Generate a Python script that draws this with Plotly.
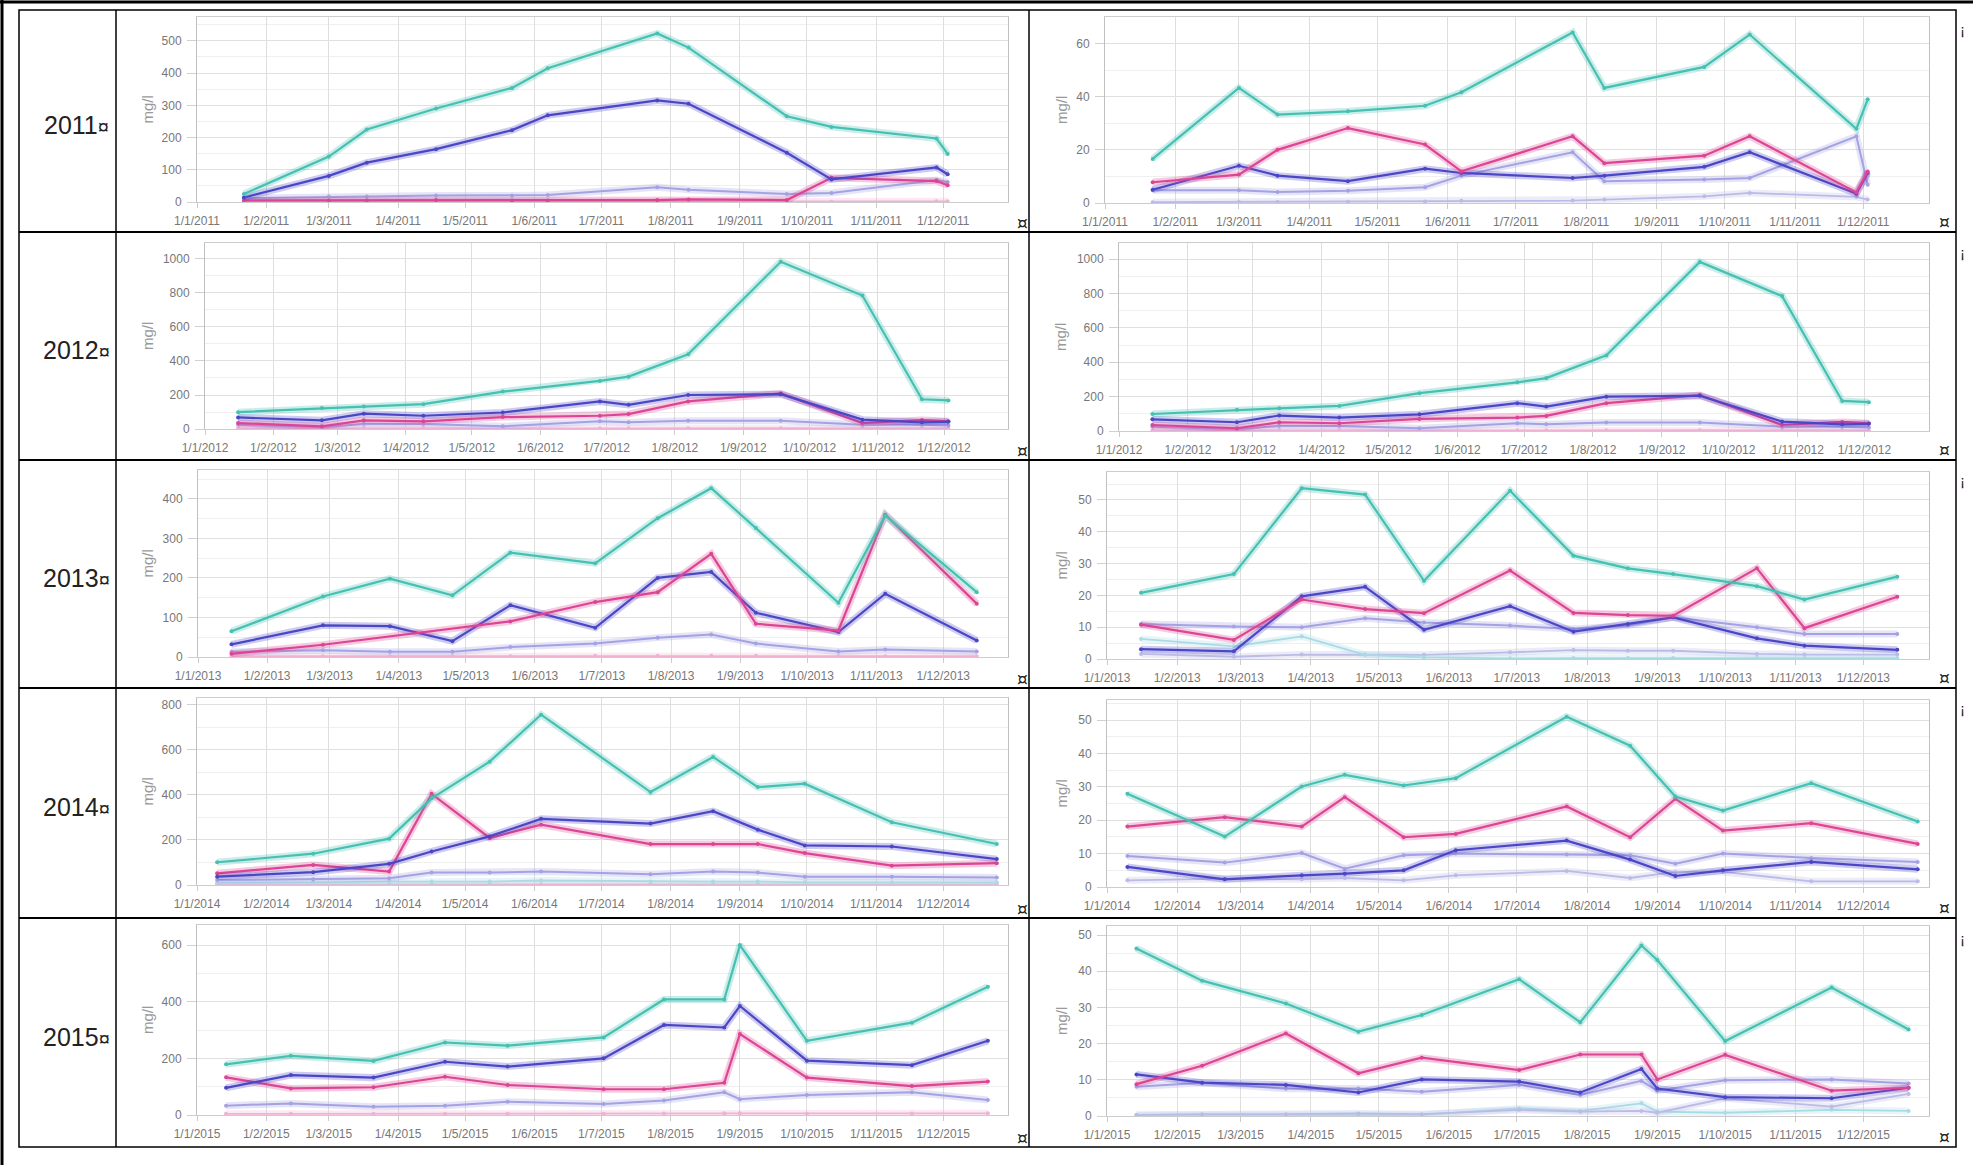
import plotly.graph_objects as go

W, H = 1973, 1165

# ---------------- data ----------------
years = ["2011", "2012", "2013", "2014", "2015"]

dates_2011 = ["2011-01-22", "2011-03-01", "2011-03-18", "2011-04-18", "2011-05-22", "2011-06-07",
              "2011-07-26", "2011-08-09", "2011-09-22", "2011-10-12", "2011-11-28", "2011-12-03"]
dates_2012 = ["2012-01-16", "2012-02-23", "2012-03-13", "2012-04-09", "2012-05-15", "2012-06-28",
              "2012-07-11", "2012-08-07", "2012-09-18", "2012-10-25", "2012-11-21", "2012-12-03"]
dates_2013 = ["2013-01-16", "2013-02-26", "2013-03-28", "2013-04-25", "2013-05-21", "2013-06-28",
              "2013-07-26", "2013-08-19", "2013-09-08", "2013-10-15", "2013-11-05", "2013-12-16"]
dates_2014 = ["2014-01-10", "2014-02-22", "2014-03-28", "2014-04-16", "2014-05-12", "2014-06-04",
              "2014-07-23", "2014-08-20", "2014-09-09", "2014-09-30", "2014-11-08", "2014-12-25"]
dates_2015 = ["2015-01-14", "2015-02-12", "2015-03-21", "2015-04-22", "2015-05-20", "2015-07-02",
              "2015-07-29", "2015-08-25", "2015-09-01", "2015-10-01", "2015-11-17", "2015-12-21"]

# 2011 left
teal_2011_L = [25, 141, 225, 290, 354, 415, 523, 479, 266, 233, 197, 149]
blue_2011_L = [14, 81, 122, 164, 223, 269, 315, 305, 153, 70, 107, 86]
magenta_2011_L = [5, 5, 5, 6, 5, 5, 6, 8, 6, 75, 65, 52]
lav_2011_L = [12, 17, 17, 20, 20, 22, 46, 38, 25, 28, 68, 62]
pinkpale_2011_L = [1, 1, 1, 1, 1, 1, 2, 2, 1, 1, 2, 2]
# 2011 right
teal_2011_R = [16.6, 43.3, 33.3, 34.5, 36.6, 41.7, 64.2, 43.3, 51.2, 63.4, 27.9, 39]
magenta_2011_R = [7.8, 10.7, 20, 28.2, 22, 11.9, 25.1, 15, 17.8, 25.1, 4, 11.9]
blue_2011_R = [5, 14, 10.3, 8.2, 12.9, 11.3, 9.4, 10.3, 13.6, 19.1, 3.5, 11.3]
lav_2011_R = [4.8, 4.8, 4.1, 4.6, 5.9, 10.3, 19.1, 8.2, 8.8, 9.4, 25.1, 6.9]
lavpale_2011_R = [0.3, 0.4, 0.4, 0.5, 0.6, 0.8, 0.9, 1.3, 2.5, 3.8, 2.3, 1.3]

# 2012 (both panels show the same chart)
teal_2012 = [99, 123, 132, 146, 220, 283, 308, 440, 984, 785, 175, 168]
blue_2012 = [68, 51, 90, 78, 97, 162, 142, 200, 205, 55, 39, 42]
magenta_2012 = [35, 16, 51, 45, 70, 78, 88, 162, 209, 35, 53, 45]
lav_2012 = [25, 10, 29, 29, 16, 45, 39, 49, 49, 25, 25, 21]
pinkpale_2012 = [4, 3, 4, 4, 3, 4, 4, 5, 5, 3, 3, 3]

# 2013 left
teal_2013_L = [65, 153, 198, 156, 264, 237, 351, 427, 326, 137, 358, 164]
blue_2013_L = [32, 80, 78, 40, 131, 74, 200, 215, 112, 63, 160, 42]
magenta_2013_L = [8, 31, None, None, 90, 139, 164, 261, 84, 67, 360, 135]
lav_2013_L = [13, 17, 13, 13, 25, 34, 49, 57, 34, 14, 19, 14]
pinkpale_2013_L = [2, 2, 2, 2, 2, 3, 3, 3, 3, 2, 2, 2]
# 2013 right
teal_2013_R = [20.8, 26.7, 53.7, 51.7, 24.6, 52.9, 32.5, 28.5, 26.7, 22.9, 18.7, 25.9]
magenta_2013_R = [10.8, 6, 18.7, 15.7, 14.4, 27.8, 14.5, 13.8, 13.6, 28.5, 9.7, 19.6]
blue_2013_R = [3.1, 2.4, 19.7, 22.7, 9.2, 16.6, 8.6, 11, 13.1, 6.5, 4.2, 2.9]
lav_2013_R = [11, 10.2, 10, 12.8, 11.5, 10.5, 9.4, 10.5, 13.1, 10, 7.9, 7.9]
cyanpale_2013_R = [6.3, 4, 7.1, 1.3, 0.5, 0.2, 0.3, 0.3, 0.3, 0.3, 0.3, 0.3]
lavpale_2013_R = [1.6, 0.7, 1.4, 1.4, 1.3, 2.1, 2.8, 2.6, 2.6, 1.6, 1.4, 1.4]

# 2014 left
teal_2014_L = [101, 139, 206, 385, 548, 757, 413, 569, 435, 450, 279, 182]
blue_2014_L = [37, 57, 94, 149, 216, 294, 273, 328, 246, 176, 171, 115]
magenta_2014_L = [52, 89, 60, 405, 209, 268, 182, 182, 182, 142, 86, 97]
lav_2014_L = [22, 25, 30, 55, 55, 60, 48, 60, 55, 37, 37, 33]
cyanpale_2014_L = [10, 10, 15, 15, 15, 20, 15, 15, 15, 12, 12, 12]
pinkpale_2014_L = [3, 3, 3, 3, 3, 3, 4, 4, 4, 3, 3, 3]
# 2014 right
teal_2014_R = [27.9, 15.1, 30.1, 33.6, 30.4, 32.6, 51, 42.3, 27.1, 22.9, 31.1, 19.6]
magenta_2014_R = [18.1, 20.9, 18.1, 26.9, 14.9, 15.9, 24.1, 14.9, 26.4, 16.9, 19.1, 12.9]
blue_2014_R = [6, 2.3, 3.5, 4, 5, 11, 13.9, 8.2, 3.3, 5, 7.5, 5.3]
lav_2014_R = [9.3, 7.3, 10.2, 5.5, 9.5, 10, 9.7, 9.5, 7, 10, 8.7, 7.5]
lavpale_2014_R = [2, 2.5, 2.3, 2.7, 2, 3.5, 4.8, 2.7, 4.5, 4.5, 1.7, 1.7]

# 2015 left
teal_2015_L = [179, 209, 191, 256, 245, 274, 408, 408, 600, 262, 326, 453]
blue_2015_L = [96, 141, 132, 188, 171, 200, 318, 309, 385, 192, 176, 262]
magenta_2015_L = [133, 94, 98, 135, 106, 91, 91, 114, 286, 132, 102, 118]
lav_2015_L = [33, 41, 29, 33, 47, 39, 51, 80, 56, 71, 80, 53]
pinkpale_2015_L = [4, 4, 4, 4, 4, 4, 5, 6, 6, 4, 5, 6]
# 2015 right
teal_2015_R = [46.3, 37.4, 31.1, 23.3, 27.9, 37.8, 25.9, 47.1, 43.1, 20.7, 35.5, 23.9]
magenta_2015_R = [8.8, 13.9, 22.8, 11.8, 16.1, 12.7, 17, 17, 10.1, 16.9, 7, 7.8]
blue_2015_R = [11.5, 9.2, 8.6, 6.5, 10.1, 9.5, 6.5, 13, 7.6, 5.2, 4.9, 7.8]
lav_2015_R = [8.1, 9.2, 7.5, 7.6, 6.7, 8.6, 5.8, 9.7, 7, 9.9, 10.1, 9]
lavpale_2015_R = [0.3, 0.5, 0.5, 0.7, 0.5, 1.7, 1.2, 1.4, 0.9, 4.9, 2.6, 6.1]
cyanpale_2015_R = [0.3, 0.3, 0.3, 0.3, 0.3, 2.1, 1.4, 3.5, 1.2, 0.9, 1.7, 1.4]

# ---------------- styles ----------------
COLORS = {
    "teal": "#46c0b2",
    "blue": "#4a46c6",
    "magenta": "#dc4593",
    "lav": "#a4a2e2",
    "lavpale": "#bcbae6",
    "cyanpale": "#a9dbe5",
    "pinkpale": "#f0b2d4",
}
WIDTHS = {"teal": 2.2, "blue": 2.2, "magenta": 2.2, "lav": 2.0,
          "lavpale": 1.8, "cyanpale": 1.8, "pinkpale": 1.8}


def rgba(hexc, a):
    h = hexc.lstrip("#")
    return "rgba(%d,%d,%d,%.2f)" % (int(h[0:2], 16), int(h[2:4], 16), int(h[4:6], 16), a)


# panel layout (pixel positions of plot areas)
LEFT_X1, RIGHT_X1 = 1008, 1929
panels = [
    dict(year="2011", dates=dates_2011, x0=197, x1=LEFT_X1, top=17, bottom=202, ymax=574, dtick=100,
         series=[("pinkpale", pinkpale_2011_L), ("lav", lav_2011_L), ("magenta", magenta_2011_L),
                 ("blue", blue_2011_L), ("teal", teal_2011_L)]),
    dict(year="2011", dates=dates_2011, x0=1105, x1=RIGHT_X1, top=17, bottom=203, ymax=70, dtick=20,
         series=[("lavpale", lavpale_2011_R), ("lav", lav_2011_R), ("blue", blue_2011_R),
                 ("magenta", magenta_2011_R), ("teal", teal_2011_R)]),
    dict(year="2012", dates=dates_2012, x0=205, x1=LEFT_X1, top=243, bottom=429, ymax=1094, dtick=200,
         series=[("pinkpale", pinkpale_2012), ("lav", lav_2012), ("magenta", magenta_2012),
                 ("blue", blue_2012), ("teal", teal_2012)]),
    dict(year="2012", dates=dates_2012, x0=1119, x1=RIGHT_X1, top=243, bottom=431, ymax=1094, dtick=200,
         series=[("pinkpale", pinkpale_2012), ("lav", lav_2012), ("magenta", magenta_2012),
                 ("blue", blue_2012), ("teal", teal_2012)]),
    dict(year="2013", dates=dates_2013, x0=198, x1=LEFT_X1, top=470, bottom=657, ymax=473, dtick=100,
         series=[("pinkpale", pinkpale_2013_L), ("lav", lav_2013_L), ("blue", blue_2013_L),
                 ("magenta", magenta_2013_L), ("teal", teal_2013_L)]),
    dict(year="2013", dates=dates_2013, x0=1107, x1=RIGHT_X1, top=472, bottom=659, ymax=58.8, dtick=10,
         series=[("lavpale", lavpale_2013_R), ("cyanpale", cyanpale_2013_R), ("lav", lav_2013_R),
                 ("blue", blue_2013_R), ("magenta", magenta_2013_R), ("teal", teal_2013_R)]),
    dict(year="2014", dates=dates_2014, x0=197, x1=LEFT_X1, top=698, bottom=885, ymax=831, dtick=200,
         series=[("pinkpale", pinkpale_2014_L), ("cyanpale", cyanpale_2014_L), ("lav", lav_2014_L),
                 ("magenta", magenta_2014_L), ("blue", blue_2014_L), ("teal", teal_2014_L)]),
    dict(year="2014", dates=dates_2014, x0=1107, x1=RIGHT_X1, top=700, bottom=887, ymax=56, dtick=10,
         series=[("lavpale", lavpale_2014_R), ("lav", lav_2014_R), ("blue", blue_2014_R),
                 ("magenta", magenta_2014_R), ("teal", teal_2014_R)]),
    dict(year="2015", dates=dates_2015, x0=197, x1=LEFT_X1, top=925, bottom=1115, ymax=671, dtick=200,
         series=[("pinkpale", pinkpale_2015_L), ("lav", lav_2015_L), ("magenta", magenta_2015_L),
                 ("blue", blue_2015_L), ("teal", teal_2015_L)]),
    dict(year="2015", dates=dates_2015, x0=1107, x1=RIGHT_X1, top=926, bottom=1116, ymax=52.5, dtick=10,
         series=[("cyanpale", cyanpale_2015_R), ("lavpale", lavpale_2015_R), ("lav", lav_2015_R),
                 ("blue", blue_2015_R), ("magenta", magenta_2015_R), ("teal", teal_2015_R)]),
]

# table geometry (pixels)
TABLE_L, TABLE_R, TABLE_T, TABLE_B = 19, 1956, 10, 1147
COL_LINES = [116, 1029]
ROW_LINES = [232, 460, 688, 918]
ROW_EDGES = [TABLE_T] + ROW_LINES + [TABLE_B]


def px(x):
    return x / W


def py(y):
    return 1 - y / H


fig = go.Figure()
layout = dict(
    width=W, height=H,
    margin=dict(l=0, r=0, t=0, b=0, pad=0, autoexpand=False),
    paper_bgcolor="white", plot_bgcolor="white",
    showlegend=False,
    font=dict(family="Liberation Sans, Arial, sans-serif"),
)

tickfont = dict(family="Liberation Sans, Arial, sans-serif", size=12, color="#777777")

annotations = []
shapes = []

for i, p in enumerate(panels, start=1):
    sfx = "" if i == 1 else str(i)
    xa, ya = "x" + sfx, "y" + sfx
    for name, vals in p["series"]:
        c = COLORS[name]
        fig.add_trace(go.Scatter(
            x=p["dates"], y=vals, xaxis=xa, yaxis=ya, mode="lines",
            line=dict(color=rgba(c, 0.28), width=7), connectgaps=True, hoverinfo="skip"))
        fig.add_trace(go.Scatter(
            x=p["dates"], y=vals, xaxis=xa, yaxis=ya, mode="lines+markers",
            line=dict(color=c, width=WIDTHS[name]), marker=dict(size=4, color=c),
            connectgaps=True))
    y = p["year"]
    layout["xaxis" + sfx] = dict(
        domain=[px(p["x0"]), px(p["x1"])], anchor=ya, type="date", automargin=False,
        range=[y + "-01-01", y + "-12-30"], dtick="M1", tick0=y + "-01-01",
        tickformat="%-d/%-m/%Y", tickfont=tickfont, tickangle=0,
        showgrid=True, gridcolor="#dedede", gridwidth=1,
        showline=True, linecolor="#cccccc", mirror=True,
        ticks="outside", ticklen=5, tickcolor="#cccccc", ticklabelstandoff=3,
        zeroline=False, fixedrange=True,
    )
    layout["yaxis" + sfx] = dict(
        domain=[py(p["bottom"]), py(p["top"])], anchor=xa, automargin=False,
        range=[0, p["ymax"]], dtick=p["dtick"], tick0=0, tickfont=tickfont,
        showgrid=True, gridcolor="#e0e0e0", gridwidth=1,
        minor=dict(dtick=p["dtick"] / 2, showgrid=True, gridcolor="#efefef", ticks=""),
        showline=True, linecolor="#c0c0c0", mirror=True,
        ticks="outside", ticklen=9, tickcolor="#d0d0d0", ticklabelstandoff=3,
        zeroline=False, fixedrange=True,
    )
    title_x = 147 if p["x1"] == LEFT_X1 else 1061
    annotations.append(dict(
        x=px(title_x), y=py((p["top"] + p["bottom"]) / 2), xref="paper", yref="paper",
        text="mg/l", textangle=-90, showarrow=False, xanchor="center", yanchor="middle",
        font=dict(size=15, color="#999999", family="Liberation Sans, Arial, sans-serif")))

for r, yr in enumerate(years):
    top, bot = ROW_EDGES[r], ROW_EDGES[r + 1]
    annotations.append(dict(
        x=px(76), y=py((top + bot) / 2 + 4), xref="paper", yref="paper",
        text=yr + "<span style='font-size:20px'>¤</span>", showarrow=False,
        xanchor="center", yanchor="middle",
        font=dict(size=25, color="#222222", family="Liberation Sans, Arial, sans-serif")))
    annotations.append(dict(
        x=px(1022), y=py(bot - 9), xref="paper", yref="paper", text="¤", showarrow=False,
        xanchor="center", yanchor="middle",
        font=dict(size=17, color="#222222", family="DejaVu Sans, sans-serif")))
    annotations.append(dict(
        x=px(1944), y=py(bot - 10), xref="paper", yref="paper", text="¤", showarrow=False,
        xanchor="center", yanchor="middle",
        font=dict(size=17, color="#222222", family="DejaVu Sans, sans-serif")))
    annotations.append(dict(
        x=px(1962), y=py(top + 20), xref="paper", yref="paper", text="¡", showarrow=False,
        xanchor="center", yanchor="middle", font=dict(size=15, color="#222222")))

line_black = dict(color="black", width=1.5)
shapes.append(dict(type="line", xref="paper", yref="paper", x0=px(2), x1=px(2), y0=0, y1=1,
                   line=dict(color="black", width=3)))
shapes.append(dict(type="line", xref="paper", yref="paper", x0=0, x1=1, y0=py(2), y1=py(2),
                   line=dict(color="black", width=3)))
shapes.append(dict(type="rect", xref="paper", yref="paper", x0=px(TABLE_L), x1=px(TABLE_R),
                   y0=py(TABLE_B), y1=py(TABLE_T), line=line_black))
for cx in COL_LINES:
    shapes.append(dict(type="line", xref="paper", yref="paper", x0=px(cx), x1=px(cx),
                       y0=py(TABLE_B), y1=py(TABLE_T), line=line_black))
for ry in ROW_LINES:
    shapes.append(dict(type="line", xref="paper", yref="paper", x0=px(TABLE_L), x1=px(TABLE_R),
                       y0=py(ry), y1=py(ry), line=dict(color="black", width=2)))

layout["annotations"] = annotations
layout["shapes"] = shapes
fig.update_layout(**layout)

fig.write_html("out.html", config={"displayModeBar": False},
               post_script="document.body.style.margin='0';")
